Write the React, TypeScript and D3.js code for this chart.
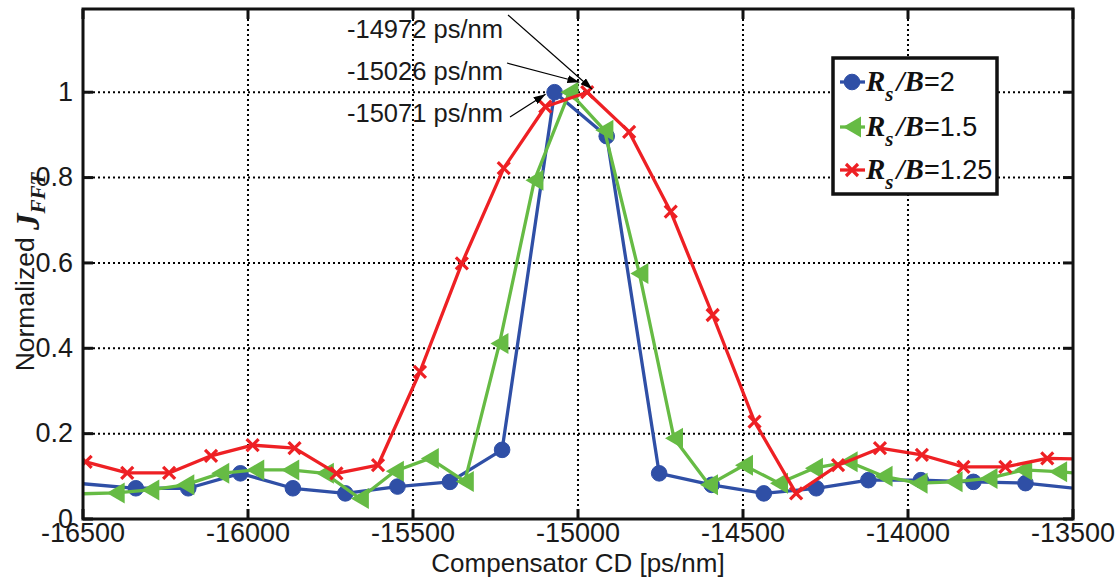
import React from "react";
import * as d3 from "d3";

// ---------- data ----------
const xTicks = [-16500, -16000, -15500, -15000, -14500, -14000, -13500];
const yTicks = [0, 0.2, 0.4, 0.6, 0.8, 1];
const yTickLabels = ["0", "0.2", "0.4", "0.6", "0.8", "1"];

const blueX = [-16520, -16340, -16181, -16023, -15864, -15705, -15547, -15388, -15230, -15071, -14913, -14754, -14595, -14437, -14278, -14120, -13961, -13802, -13644, -13485];
const blueY = [0.084, 0.072, 0.072, 0.107, 0.072, 0.060, 0.076, 0.087, 0.162, 1.0, 0.897, 0.107, 0.080, 0.060, 0.072, 0.091, 0.091, 0.087, 0.084, 0.071];

const greenX = [-16507, -16401, -16296, -16190, -16084, -15978, -15872, -15767, -15661, -15555, -15449, -15343, -15238, -15132, -15026, -14920, -14814, -14709, -14603, -14497, -14391, -14285, -14180, -14074, -13968, -13862, -13756, -13651, -13545, -13439];
const greenY = [0.059, 0.061, 0.068, 0.080, 0.107, 0.115, 0.115, 0.107, 0.048, 0.112, 0.142, 0.088, 0.411, 0.794, 1.0, 0.911, 0.575, 0.189, 0.080, 0.126, 0.084, 0.119, 0.134, 0.100, 0.084, 0.087, 0.095, 0.115, 0.111, 0.104];

const redX = [-16492, -16366, -16239, -16112, -15986, -15859, -15732, -15606, -15479, -15352, -15225, -15099, -14972, -14845, -14719, -14592, -14465, -14339, -14212, -14085, -13958, -13832, -13705, -13578, -13452];
const redY = [0.134, 0.108, 0.108, 0.148, 0.173, 0.166, 0.107, 0.126, 0.345, 0.599, 0.822, 0.966, 1.0, 0.907, 0.72, 0.478, 0.228, 0.060, 0.126, 0.166, 0.150, 0.122, 0.122, 0.142, 0.140];

const seriesNames = ["2", "1.5", "1.25"];
const peakLabels = ["-14972 ps/nm", "-15026 ps/nm", "-15071 ps/nm"];
const peakX = [-14972, -15026, -15071];

const BLUE = "#2f4fa6";
const GREEN = "#66bb44";
const RED = "#ee2024";

const SANS = "'Liberation Sans', Arial, Helvetica, sans-serif";
const SERIF = "'Liberation Serif', 'Times New Roman', serif";

export default function App() {
  const W = 1120, H = 580;
  const L = 83, R = 1073, T = 9, B = 519;
  const x = d3.scaleLinear().domain([-16500, -13500]).range([L, R]);
  const y = d3.scaleLinear().domain([0, 1.195]).range([B, T]);

  const mk = (xs: number[], ys: number[]) => xs.map((v, i) => ({ x: v, y: ys[i] }));
  const blue = mk(blueX, blueY);
  const green = mk(greenX, greenY);
  const red = mk(redX, redY);
  const line = d3.line<{ x: number; y: number }>().x((d) => x(d.x)).y((d) => y(d.y));
  const inside = (d: { x: number }) => d.x >= -16500 && d.x <= -13500;

  const circle = (cx: number, cy: number, key: any) => (
    <circle key={key} cx={cx} cy={cy} r={7.8} fill={BLUE} stroke={BLUE} strokeWidth={1} />
  );
  const tri = (cx: number, cy: number, key: any) => (
    <path key={key} d={`M${cx - 9},${cy} L${cx + 9},${cy - 10.5} L${cx + 9},${cy + 10.5} Z`} fill={GREEN} />
  );
  const cross = (cx: number, cy: number, key: any) => (
    <path key={key} d={`M${cx - 6},${cy - 6} L${cx + 6},${cy + 6} M${cx - 6},${cy + 6} L${cx + 6},${cy - 6}`} stroke={RED} strokeWidth={3.2} fill="none" />
  );

  // annotation layout (pixel offsets for text & arrow tails)
  const annText = [
    { tx: 347, ty: 38, sx: 508, sy: 15, dx: 5, dy: -3 },
    { tx: 347, ty: 80, sx: 507, sy: 63, dx: 10, dy: -10 },
    { tx: 347, ty: 122, sx: 510, sy: 117, dx: -9, dy: 2 },
  ];

  const legendY = [82, 127, 170];
  const legendMarkers = [circle, tri, cross];
  const legendColors = [BLUE, GREEN, RED];

  return (
    <svg width={W} height={H} style={{ position: "absolute", left: 0, top: 0, background: "#fff" }}>
      <defs>
        <clipPath id="plotclip">
          <rect x={L} y={T} width={R - L} height={B - T} />
        </clipPath>
        <marker id="arr" viewBox="0 0 12 8" refX="12" refY="4" markerWidth="12" markerHeight="8" markerUnits="userSpaceOnUse" orient="auto">
          <path d="M0,0 L12,4 L0,8 Z" fill="#000" />
        </marker>
      </defs>
      <rect x={0} y={0} width={W} height={H} fill="#fff" />

      {/* annotations text */}
      {peakLabels.map((t, i) => (
        <text key={"at" + i} x={annText[i].tx} y={annText[i].ty} fontFamily={SANS} fontSize={25.5} fill="#1a1a1a">
          {t}
        </text>
      ))}

      {/* grid */}
      <g stroke="#000" strokeWidth={2} strokeDasharray="2,3">
        {xTicks.slice(1, -1).map((t) => (
          <line key={"gx" + t} x1={x(t)} x2={x(t)} y1={T} y2={B} />
        ))}
        {yTicks.slice(1).map((t) => (
          <line key={"gy" + t} x1={L} x2={R} y1={y(t)} y2={y(t)} />
        ))}
      </g>

      {/* series */}
      <g clipPath="url(#plotclip)">
        <path d={line(blue) || ""} fill="none" stroke={BLUE} strokeWidth={3.3} strokeLinejoin="round" />
        {blue.filter(inside).map((d, i) => circle(x(d.x), y(d.y), "b" + i))}
        <path d={line(green) || ""} fill="none" stroke={GREEN} strokeWidth={3.3} strokeLinejoin="round" />
        {green.filter(inside).map((d, i) => tri(x(d.x), y(d.y), "g" + i))}
        <path d={line(red) || ""} fill="none" stroke={RED} strokeWidth={3.3} strokeLinejoin="round" />
        {red.filter(inside).map((d, i) => cross(x(d.x), y(d.y), "r" + i))}
      </g>

      {/* annotation arrows */}
      {peakX.map((px, i) => (
        <line key={"ar" + i} x1={annText[i].sx} y1={annText[i].sy} x2={x(px) + annText[i].dx} y2={y(1) + annText[i].dy}
          stroke="#000" strokeWidth={1.2} markerEnd="url(#arr)" />
      ))}

      {/* axes box & ticks */}
      <g stroke="#111" strokeWidth={3}>
        <rect x={L} y={T} width={R - L} height={B - T} fill="none" />
        {xTicks.map((t) => (
          <g key={"tx" + t}>
            <line x1={x(t)} x2={x(t)} y1={B} y2={B - 10} />
            <line x1={x(t)} x2={x(t)} y1={T} y2={T + 10} />
          </g>
        ))}
        {yTicks.map((t) => (
          <g key={"ty" + t}>
            <line x1={L} x2={L + 10} y1={y(t)} y2={y(t)} />
            <line x1={R} x2={R - 10} y1={y(t)} y2={y(t)} />
          </g>
        ))}
      </g>

      {/* tick labels */}
      {xTicks.map((t) => (
        <text key={"lx" + t} x={x(t)} y={542} textAnchor="middle" fontFamily={SANS} fontSize={27} fill="#1a1a1a">
          {String(t)}
        </text>
      ))}
      {yTicks.map((t, i) => (
        <text key={"ly" + t} x={73} y={y(t) - 1} dy="0.36em" textAnchor="end" fontFamily={SANS} fontSize={27} fill="#1a1a1a">
          {yTickLabels[i]}
        </text>
      ))}

      {/* axis labels */}
      <text x={(L + R) / 2} y={572} textAnchor="middle" fontFamily={SANS} fontSize={26} fill="#1a1a1a">
        Compensator CD [ps/nm]
      </text>
      <text transform={`translate(34,${(T + B) / 2 + 8}) rotate(-90)`} textAnchor="middle" fontFamily={SANS} fontSize={26.5} fill="#1a1a1a">
        Normalized{"  "}
        <tspan fontFamily={SERIF} fontStyle="italic" fontWeight="bold" fontSize={33} dy={5}>J</tspan>
        <tspan fontFamily={SERIF} fontStyle="italic" fontWeight="bold" fontSize={21} dy={6}>FFT</tspan>
      </text>

      {/* legend */}
      <rect x={833} y={58} width={164} height={136} fill="#fff" stroke="#111" strokeWidth={3.5} />
      {seriesNames.map((n, i) => (
        <g key={"lg" + i}>
          <line x1={840} x2={865} y1={legendY[i]} y2={legendY[i]} stroke={legendColors[i]} strokeWidth={3.3} />
          {legendMarkers[i](852, legendY[i], "lm" + i)}
          <text x={866} y={legendY[i] + 9} fontSize={29} fill="#111">
            <tspan fontFamily={SERIF} fontStyle="italic" fontWeight="bold">R</tspan>
            <tspan fontFamily={SERIF} fontStyle="italic" fontWeight="bold" fontSize={21} dy={10}>s</tspan>
            <tspan fontFamily={SERIF} fontStyle="italic" fontWeight="bold" dy={-10} dx={3}>/B</tspan>
            <tspan fontFamily={SANS} fontSize={27}>={n}</tspan>
          </text>
        </g>
      ))}
    </svg>
  );
}
